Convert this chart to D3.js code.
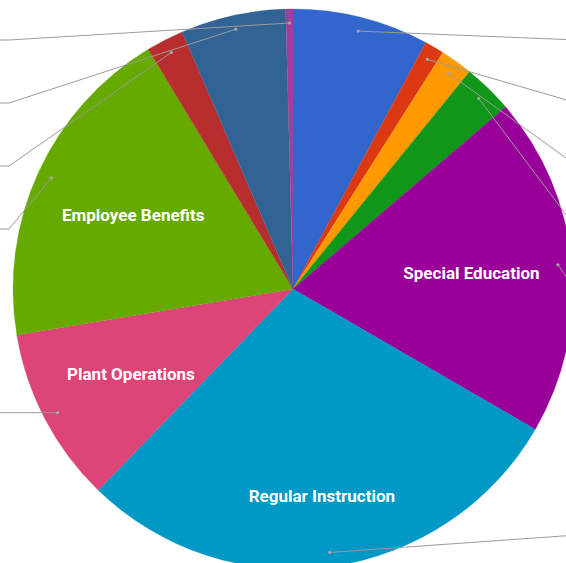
<!DOCTYPE html>
<html lang="en">
<head>
    <meta charset="UTF-8">
    <title>Budget by Function</title>
    <script src="https://d3js.org/d3.v7.min.js"></script>
    <style>
        body { margin: 0; font-family: Roboto, Arial, sans-serif; background: #fff; }
        svg { display: block; overflow: hidden; }
        .slice-label { font-size: 17px; font-weight: bold; fill: #fff; text-anchor: middle; }
        .leader { fill: none; stroke: #9a9a9a; stroke-width: 1; }
        .leader-dot { fill: #a8a8a8; }
    </style>
</head>
<body>
    <div id="chart"></div>

    <script>
        // slice order follows the data, clockwise from 12 o'clock
        const categories = [
            "Instructional Support", "Student Transportation", "Food Service", "Student Services",
            "Special Education", "Regular Instruction", "Plant Operations", "Employee Benefits",
            "Central Services", "Administration", "Debt Service"
        ];
        const shares = [7.87, 1.12, 1.87, 2.88, 19.63, 28.89, 10.13, 18.99, 2.17, 6.06, 0.42];
        const colors = [
            "#3366cc", "#dc3912", "#ff9900", "#109618", "#990099", "#0099c6",
            "#dd4477", "#66aa00", "#b82e2e", "#316395", "#994499"
        ];

        const W = 566, H = 563;
        const cx = 293, cy = 289, r = 280;

        const data = categories.map((name, i) => ({name: name, value: shares[i], color: colors[i]}));

        const svg = d3.select("#chart").append("svg")
            .attr("width", W)
            .attr("height", H);

        const g = svg.append("g").attr("transform", `translate(${cx},${cy})`);

        const pie = d3.pie().value(d => d.value).sort(null);
        const arc = d3.arc().innerRadius(0).outerRadius(r);
        const arcs = pie(data);
        const total = d3.sum(shares);

        g.selectAll("path.slice")
            .data(arcs)
            .enter()
            .append("path")
            .attr("class", "slice")
            .attr("d", arc)
            .attr("fill", d => d.data.color)
            .attr("stroke", d => d.data.color)
            .attr("stroke-width", 0.3);

        // leader lines to the outside labels (those fall outside the visible area)
        const mid = d => (d.startAngle + d.endAngle) / 2;
        const dotR = r * 0.95;
        arcs.forEach(d => {
            const a = mid(d);
            d.dx = dotR * Math.sin(a);
            d.dy = -dotR * Math.cos(a);
            d.side = d.dx >= 0 ? 1 : -1;
        });

        const gap = 63, topY = 40 - cy, bottomY = 535 - cy;
        [1, -1].forEach(side => {
            const items = arcs.filter(d => d.side === side).sort((a, b) => a.dy - b.dy);
            let prev = -Infinity;
            items.forEach(d => {
                d.ly = Math.max(d.dy, topY, prev + gap);
                prev = d.ly;
            });
            let next = Infinity;
            for (let i = items.length - 1; i >= 0; i--) {
                items[i].ly = Math.min(items[i].ly, bottomY, next - gap);
                next = items[i].ly;
            }
        });

        const kinkX = 284;
        const line = d3.line();
        g.selectAll("path.leader")
            .data(arcs)
            .enter()
            .append("path")
            .attr("class", "leader")
            .attr("d", d => line([[d.dx, d.dy], [d.side * kinkX, d.ly], [d.side * (kinkX + 40), d.ly]]));

        g.selectAll("circle.leader-dot")
            .data(arcs)
            .enter()
            .append("circle")
            .attr("class", "leader-dot")
            .attr("cx", d => d.dx)
            .attr("cy", d => d.dy)
            .attr("r", 1.6);

        // slice text: pushed out until the far corner of its (padded) box reaches textR
        const textR = r * 0.89;
        const big = arcs.filter(d => d.data.value / total >= 0.09);
        const labels = g.selectAll("text.slice-label")
            .data(big)
            .enter()
            .append("text")
            .attr("class", "slice-label")
            .attr("dy", "0.35em")
            .text(d => d.data.name);

        labels.each(function(d) {
            const w = this.getComputedTextLength();
            const h = 40;
            const a = mid(d);
            const ux = Math.abs(Math.sin(a)), uy = Math.abs(Math.cos(a));
            const b = ux * w / 2 + uy * h / 2;
            const c = (w * w + h * h) / 4 - textR * textR;
            const dist = -b + Math.sqrt(b * b - c);
            d3.select(this)
                .attr("x", dist * Math.sin(a))
                .attr("y", -dist * Math.cos(a));
        });
    </script>
</body>
</html>
